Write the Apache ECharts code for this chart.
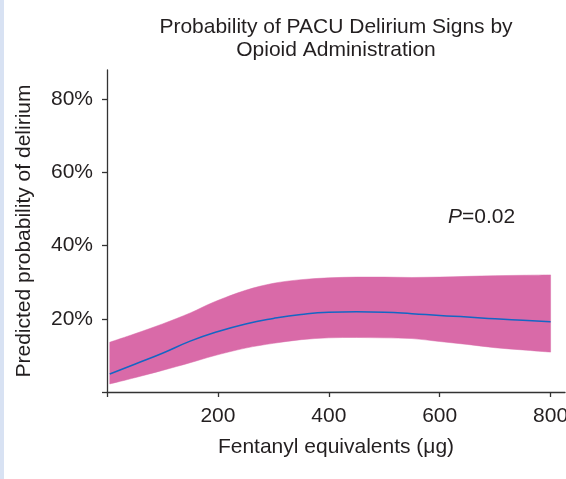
<!DOCTYPE html>
<html>
<head>
<meta charset="utf-8">
<script src="https://cdn.jsdelivr.net/npm/echarts@6/dist/echarts.min.js"></script>
<style>
	html, body { margin: 0; padding: 0; background: #fff; }
	#main { width: 566px; height: 479px; }
</style>
</head>
<body>
<div id="main"></div>
<script>
// dose grid (fentanyl equivalents, µg)
var doses = [5, 50, 100, 150, 193, 250, 300, 350, 400, 450, 500, 550, 600, 650, 700, 750, 800];
// predicted probability (%) and 95% band
var predicted = [4.9, 7.6, 10.6, 13.9, 16.2, 18.6, 20.1, 21.2, 21.8, 21.9, 21.8, 21.4, 20.9, 20.5, 20.0, 19.6, 19.2];
var lower     = [2.2, 3.9, 5.9, 8.0, 9.9, 12.0, 13.3, 14.3, 14.8, 14.9, 14.8, 14.6, 13.8, 13.0, 12.1, 11.5, 10.9];
var upper     = [13.6, 15.9, 18.6, 21.6, 24.6, 27.8, 29.7, 30.7, 31.2, 31.4, 31.4, 31.3, 31.4, 31.6, 31.8, 31.9, 32.0];
var xTicks = [200, 400, 600, 800];
var yTicks = [20, 40, 60, 80];

var FONT = '"Liberation Sans", Arial, Helvetica, sans-serif';
var TXT = '#231f20';
var AX = '#333';
var PINK = '#d96aa8';

var lineData = [];
for (var i = 0; i < doses.length; i++) lineData.push([doses[i], predicted[i]]);

//把一串像素点连成平滑曲线（Catmull-Rom 转三次贝塞尔）
function curveTo(pts) {
	var k = 1 / 6, s = '';
	for (var i = 0; i < pts.length - 1; i++) {
		var p0 = pts[i - 1] || pts[i], p1 = pts[i], p2 = pts[i + 1], p3 = pts[i + 2] || pts[i + 1];
		s += ' C' + (p1[0] + (p2[0] - p0[0]) * k) + ',' + (p1[1] + (p2[1] - p0[1]) * k) +
			' ' + (p2[0] - (p3[0] - p1[0]) * k) + ',' + (p2[1] - (p3[1] - p1[1]) * k) +
			' ' + p2[0] + ',' + p2[1];
	}
	return s;
}

//置信带：上沿正向 + 下沿反向，围成闭合区域
function renderBand(params, api) {
	var up = [], lo = [];
	for (var i = 0; i < doses.length; i++) up.push(api.coord([doses[i], upper[i]]));
	for (var j = doses.length - 1; j >= 0; j--) lo.push(api.coord([doses[j], lower[j]]));
	var d = 'M' + up[0][0] + ',' + up[0][1] + curveTo(up) +
		' L' + lo[0][0] + ',' + lo[0][1] + curveTo(lo) + ' Z';
	return {
		type: 'path',
		shape: { pathData: d },
		style: { fill: PINK, stroke: PINK, lineWidth: 0.5 }
	};
}

var chart = echarts.init(document.getElementById('main'));

var option = {
	animation: false,
	backgroundColor: '#fff',
	title: {
		text: 'Probability of PACU Delirium Signs by\nOpioid Administration',
		left: 331,
		top: 11,
		textAlign: 'center',
		textStyle: { fontFamily: FONT, fontSize: 21, fontWeight: 'normal', color: TXT, lineHeight: 23 }
	},
	grid: { left: 107, right: 1, top: 70, bottom: 87, outerBoundsMode: 'none', containLabel: false },
	xAxis: {
		type: 'value',
		min: 0,
		max: 826,
		name: 'Fentanyl equivalents (μg)',
		nameLocation: 'middle',
		nameGap: 45,
		nameTextStyle: { fontFamily: FONT, fontSize: 21, color: TXT },
		axisLine: { show: true, lineStyle: { color: AX, width: 1.3 } },
		axisTick: { show: true, length: 5, lineStyle: { color: AX, width: 1.3 }, customValues: [0].concat(xTicks) },
		axisLabel: { fontFamily: FONT, fontSize: 21, color: TXT, margin: 14, customValues: xTicks },
		splitLine: { show: false }
	},
	yAxis: {
		type: 'value',
		min: 0,
		max: 88,
		name: 'Predicted probability of delirium',
		nameLocation: 'middle',
		nameGap: 72,
		nameTextStyle: { fontFamily: FONT, fontSize: 21, color: TXT },
		axisLine: { show: true, lineStyle: { color: AX, width: 1.3 } },
		axisTick: { show: true, length: 5, lineStyle: { color: AX, width: 1.3 }, customValues: [0].concat(yTicks) },
		axisLabel: { fontFamily: FONT, fontSize: 21, color: TXT, margin: 14, customValues: yTicks,
			formatter: function (v) { return v + '%'; } },
		splitLine: { show: false }
	},
	graphic: [
		{ type: 'rect', shape: { x: 0, y: 0, width: 4, height: 479 }, style: { fill: '#d8e2f3' }, z: 10 },
		{
			type: 'text', x: 448, y: 217, z: 10,
			style: {
				text: '{i|P}{n|=0.02}',
				verticalAlign: 'middle',
				rich: {
					i: { fontFamily: FONT, fontSize: 21, fontStyle: 'italic', fill: TXT },
					n: { fontFamily: FONT, fontSize: 21, fill: TXT }
				}
			}
		}
	],
	series: [
		{
			type: 'custom', name: 'band',
			data: [[doses[0], upper[0]]],
			renderItem: renderBand,
			z: 2
		},
		{
			type: 'line', name: 'predicted', data: lineData,
			symbol: 'none', smooth: true, z: 5,
			lineStyle: { color: '#1466c4', width: 1.5 }
		}
	]
};

chart.setOption(option);
</script>
</body>
</html>
